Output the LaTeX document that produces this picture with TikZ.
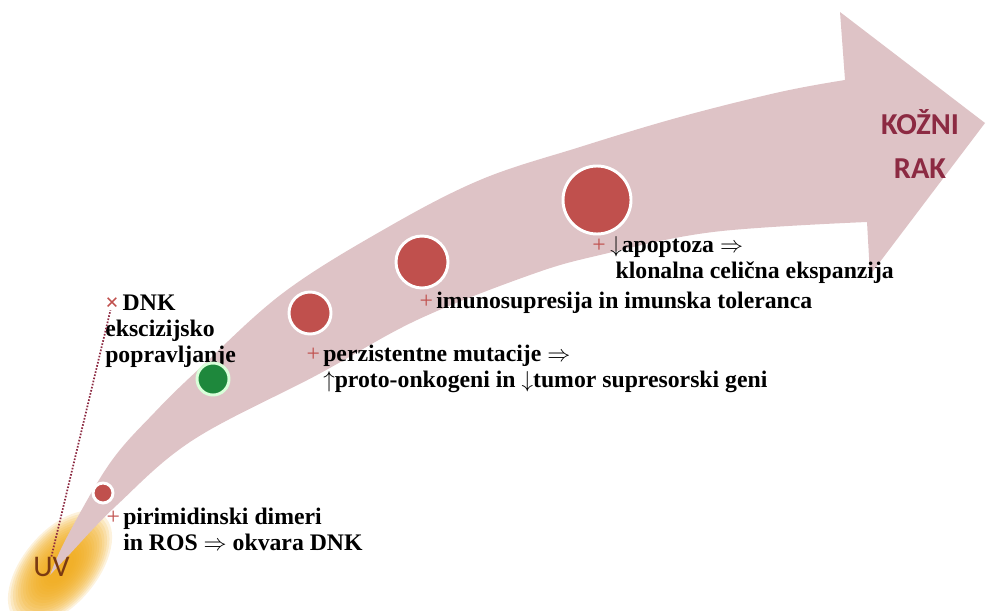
\documentclass[tikz,border=0pt]{standalone}
\usepackage{fontspec}
\setmainfont{Liberation Serif}
\newfontfamily\calibri{Carlito}
\definecolor{band}{RGB}{222,195,198}
\definecolor{dotred}{RGB}{192,80,77}
\definecolor{dotgreen}{RGB}{30,136,60}
\definecolor{maroon}{RGB}{140,42,66}
\definecolor{uvbrown}{RGB}{122,58,18}
\definecolor{glowc}{RGB}{240,170,25}
\begin{document}
\begin{tikzpicture}[x=0.75pt,y=-0.75pt,
  lbl/.style={font=\fontsize{17.8}{19.5}\selectfont\bfseries, align=left,
    inner sep=0pt, anchor=base west, text=black},
  plus/.style={font=\fontsize{17.8}{19.5}\selectfont, text=dotred,
    inner sep=0pt, anchor=base east},
  dot/.style={circle, draw=white, line width=2.2pt, fill=dotred, inner sep=0pt},
  greendot/.style={dot, fill=dotgreen, draw=white!85!green},
]
\useasboundingbox (0,0) rectangle (987,610);

% soft sun glow behind the UV label
\begin{scope}[shift={(60,568)}, rotate=50]
  \foreach \k in {0,...,15}
    \fill[glowc, opacity=0.15] (0,0) ellipse [x radius={68-3.3*\k}, y radius={37-1.8*\k}];
\end{scope}

% curved arrow
\fill[band] plot[smooth, tension=0.6] coordinates {
    (50,575) (67,537) (110,463) (155,412) (200,368) (283,293) (383,230)
    (480,180) (580,147) (680,117) (780,92) (845,80)}
  -- (840,12) -- (985,123) -- (870,275) -- (867,222)
  -- plot[smooth, tension=0.6] coordinates {
    (867,222) (713,232) (600,255) (530,275) (417,320) (317,375)
    (193,440) (117,505) (67,557) (50,575)}
  -- cycle;

% labels of the two ends
\node[font=\calibri\fontsize{22.5}{27}\selectfont, text=uvbrown, inner sep=0pt,
  anchor=base west] (uv) at (33,576) {UV};
\node[font=\calibri\bfseries\fontsize{22.8}{33}\selectfont, text=maroon,
  align=center, inner sep=0pt, anchor=base] (rak) at (920,178) {KOŽNI\\RAK};

% repair branch (multi-line nodes are placed by their last baseline)
\node[lbl] (dnk) at (105,362) {\hphantom{×\,}DNK\\ekscizijsko\\popravljanje};
\node[lbl, text=dotred] (xm) at ([yshift=39pt]dnk.base west) {×};
\draw[maroon, line width=1.3pt, dash pattern=on 1.2pt off 1.2pt] (uv.north) -- (xm);

% stages along the arrow
\node[dot, minimum size=20pt*0.75] (c1) at (103,493) {};
\node[greendot, minimum size=32pt*0.75] (c2) at (213,379) {};
\node[dot, minimum size=42pt*0.75] (c3) at (310,313) {};
\node[dot, minimum size=52pt*0.75] (c4) at (422,262) {};
\node[dot, minimum size=68pt*0.75] (c5) at (597,200) {};

\node[lbl] (t1) at (123,550) {pirimidinski dimeri\\in ROS $\Rightarrow$ okvara DNK};
\node[plus] at ([xshift=-2pt, yshift=19.5pt]t1.base west) {+};

\node[lbl] (t2) at (323,387) {perzistentne mutacije $\Rightarrow$\\$\uparrow$proto-onkogeni in $\downarrow$tumor supresorski geni};
\node[plus] at ([xshift=-2pt, yshift=19.5pt]t2.base west) {+};

\node[lbl] (t3) at (436,308) {imunosupresija in imunska toleranca};
\node[plus] at ([xshift=-2pt]t3.base west) {+};

\node[lbl] (t4) at (610,278) {$\downarrow$apoptoza $\Rightarrow$\\\hspace*{4pt}klonalna celična ekspanzija};
\node[plus] at ([xshift=-3pt, yshift=19.5pt]t4.base west) {+};
\end{tikzpicture}
\end{document}
